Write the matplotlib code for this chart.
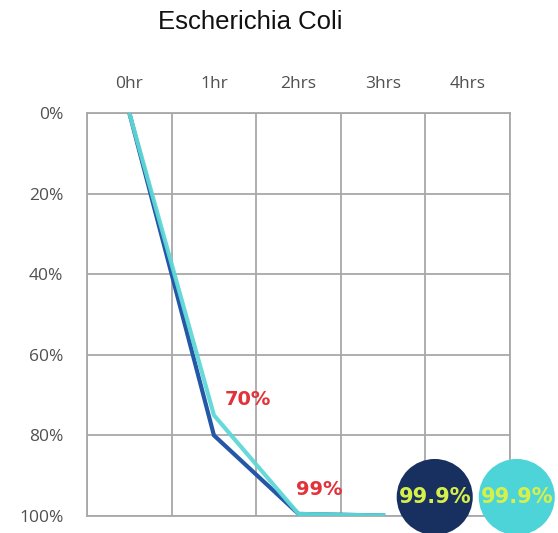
#! /usr/bin/env python3

import matplotlib
matplotlib.use("Agg")
import matplotlib.pyplot as plt
from matplotlib.ticker import FixedLocator

# data
hours = ["0hr", "1hr", "2hrs", "3hrs", "4hrs"]
pct_ticks = [0, 20, 40, 60, 80, 100]
dark_line = [0, 80, 99.5, 99.9]
light_line = [0, 75, 99.5, 99.9]

# callout labels
labels = ["70%", "99%"]
label_x = [1.4, 2.25]
label_y = [71, 93.5]

# 99.9% badges
badge_text = "99.9%"
badge_x = [3.61, 4.58]
badge_y = [95.3, 95.3]
badge_col = ["#17305f", "#4dd4d8"]

fig = plt.figure(figsize=(5.58, 5.33), dpi=100)
ax = fig.add_axes([0.156, 0.032, 0.758, 0.756])

ax.set_xlim(-0.5, 4.5)
ax.set_ylim(100, 0)

ax.set_xticks(range(len(hours)))
ax.set_xticklabels(hours)
ax.xaxis.set_minor_locator(FixedLocator([i - 0.5 for i in range(len(hours) + 1)]))
ax.set_yticks(pct_ticks)
ax.set_yticklabels(["{:d}%".format(p) for p in pct_ticks])

ax.xaxis.tick_top()
ax.tick_params(axis="both", which="both", length=0, colors="#505050", labelsize=12.5)
ax.tick_params(axis="x", pad=15)
ax.tick_params(axis="y", pad=17)
for lab in ax.get_xticklabels() + ax.get_yticklabels():
	lab.set_family("Open Sans")

ax.grid(True, which="minor", axis="x", color="#a8a8a8", linewidth=1.3)
ax.grid(True, which="major", axis="y", color="#a8a8a8", linewidth=1.3)
for s in ax.spines.values():
	s.set_color("#a8a8a8")
	s.set_linewidth(1.3)

x = list(range(len(dark_line)))
ax.plot(x, dark_line, color="#2458a6", linewidth=3, solid_joinstyle="miter", zorder=3)
ax.plot(x, light_line, color="#5fd7d6", linewidth=3, solid_joinstyle="miter", zorder=3, alpha=0.95)

for t, lx, ly in zip(labels, label_x, label_y):
	ax.text(lx, ly, t, color="#e2323a", fontsize=14, fontweight="bold", ha="center", va="center")

ax.scatter(badge_x, badge_y, s=3000, c=badge_col, clip_on=False, zorder=5, linewidths=0)
for bx, by in zip(badge_x, badge_y):
	ax.text(bx, by, badge_text, color="#d6f04a", fontsize=15, fontweight="bold",
		ha="center", va="center", zorder=6, clip_on=False)

fig.text(0.448, 0.958, "Escherichia Coli", family="Liberation Sans", fontsize=18.5,
	ha="center", va="center", color="#111111")

fig.savefig("out.png", dpi=100)
